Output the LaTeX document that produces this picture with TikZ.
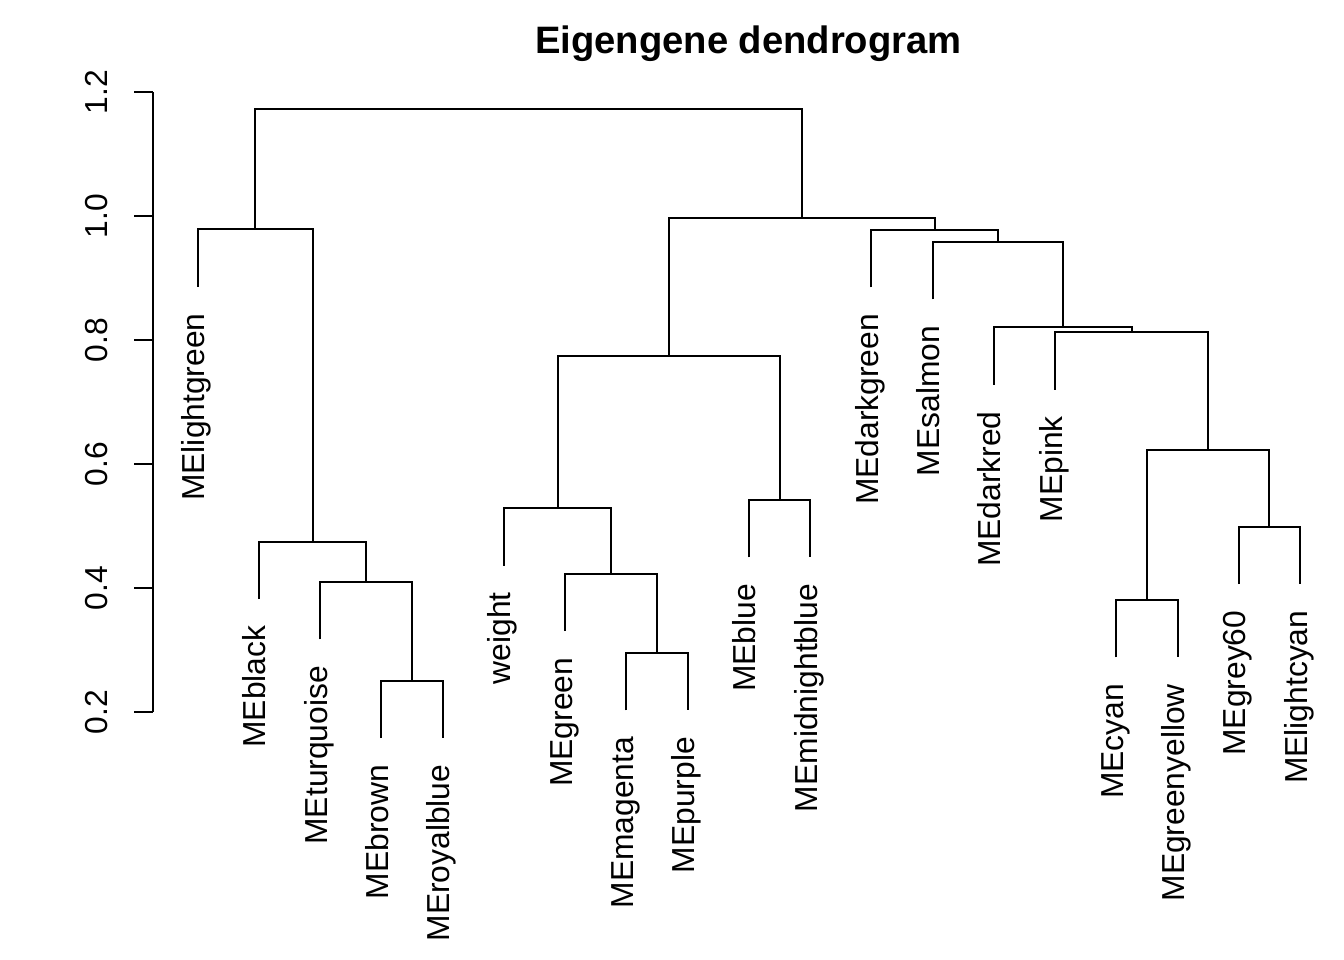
\documentclass[tikz,border=0pt]{standalone}
\usepackage{fontspec}
\setmainfont{Liberation Sans}
\begin{document}
\begin{tikzpicture}[x=1pt,y=-1pt,
  lab/.style={rotate=90, anchor=base east, inner sep=0pt, font=\fontsize{31.8}{36}\selectfont},
  ticklab/.style={rotate=90, anchor=base, inner sep=0pt, font=\fontsize{31.8}{36}\selectfont},
  link/.style={draw=black, line width=2pt, line cap=butt, line join=miter},
  axisline/.style={draw=black, line width=2pt, line cap=butt}]
\useasboundingbox (0,0) rectangle (1344,960);
\fill[white] (0,0) rectangle (1344,960);

% title
\node[inner sep=0pt, anchor=base, font=\fontsize{38.2}{42}\selectfont\bfseries] (title) at (748.4,53.3) {Eigengene dendrogram};

% axis
\coordinate (ax12) at (152.5,92.3);
\coordinate (ax02) at (152.5,712.3);
\draw[axisline] (ax12) -- (ax02);
\foreach \v/\y/\n in {0.2/712.3/a, 0.4/588.3/b, 0.6/464.3/c, 0.8/340.3/d, 1.0/216.3/e, 1.2/92.3/f}{
  \coordinate (tk\n) at (152.5,\y);
  \coordinate (tl\n) at (133.5,\y);
  \draw[axisline] (tk\n) -- (tl\n);
  \node[ticklab] (tt\n) at (107,\y) {\v};
}

% leaf tips
\coordinate (t0)  at (197.7,286.7);
\coordinate (t1)  at (258.9,599.0);
\coordinate (t2)  at (320.2,639.3);
\coordinate (t3)  at (381.4,738.0);
\coordinate (t4)  at (442.7,738.0);
\coordinate (t5)  at (503.9,565.6);
\coordinate (t6)  at (565.1,631.0);
\coordinate (t7)  at (626.4,710.3);
\coordinate (t8)  at (687.6,710.3);
\coordinate (t9)  at (748.9,557.3);
\coordinate (t10) at (810.1,557.3);
\coordinate (t11) at (871.3,287.3);
\coordinate (t12) at (932.6,299.3);
\coordinate (t13) at (993.8,384.6);
\coordinate (t14) at (1055.1,389.6);
\coordinate (t15) at (1116.3,657.3);
\coordinate (t16) at (1177.5,657.3);
\coordinate (t17) at (1238.8,584.0);
\coordinate (t18) at (1300.0,584.0);

% leaf labels
\node[lab] (l0)  at ([shift={(7,26.5)}]t0)  {MElightgreen};
\node[lab] (l1)  at ([shift={(7,26.5)}]t1)  {MEblack};
\node[lab] (l2)  at ([shift={(7,26.5)}]t2)  {MEturquoise};
\node[lab] (l3)  at ([shift={(7,26.5)}]t3)  {MEbrown};
\node[lab] (l4)  at ([shift={(7,26.5)}]t4)  {MEroyalblue};
\node[lab] (l5)  at ([shift={(7,26.5)}]t5)  {weight};
\node[lab] (l6)  at ([shift={(7,26.5)}]t6)  {MEgreen};
\node[lab] (l7)  at ([shift={(7,26.5)}]t7)  {MEmagenta};
\node[lab] (l8)  at ([shift={(7,26.5)}]t8)  {MEpurple};
\node[lab] (l9)  at ([shift={(7,26.5)}]t9)  {MEblue};
\node[lab] (l10) at ([shift={(7,26.5)}]t10) {MEmidnightblue};
\node[lab] (l11) at ([shift={(7,26.5)}]t11) {MEdarkgreen};
\node[lab] (l12) at ([shift={(7,26.5)}]t12) {MEsalmon};
\node[lab] (l13) at ([shift={(7,26.5)}]t13) {MEdarkred};
\node[lab] (l14) at ([shift={(7,26.5)}]t14) {MEpink};
\node[lab] (l15) at ([shift={(7,26.5)}]t15) {MEcyan};
\node[lab] (l16) at ([shift={(7,26.5)}]t16) {MEgreenyellow};
\node[lab] (l17) at ([shift={(7,26.5)}]t17) {MEgrey60};
\node[lab] (l18) at ([shift={(7,26.5)}]t18) {MElightcyan};

% merge points
\coordinate (mD) at (412.05,680.7);
\coordinate (mC) at (366.1,582.0);
\coordinate (mB) at (312.5,541.7);
\coordinate (mA) at (255.1,229.3);
\coordinate (mI) at (657.0,653.0);
\coordinate (mH) at (611.05,573.7);
\coordinate (mG) at (557.5,508.3);
\coordinate (mJ) at (779.5,500.0);
\coordinate (mF) at (668.5,355.7);
\coordinate (mQ) at (1146.9,600.0);
\coordinate (mP) at (1269.4,526.7);
\coordinate (mO) at (1208.15,450.0);
\coordinate (mN) at (1131.6,332.3);
\coordinate (mM) at (1062.7,327.3);
\coordinate (mL) at (997.65,242.0);
\coordinate (mK) at (934.5,230.0);
\coordinate (mE) at (801.5,218.5);
\coordinate (mR) at (528.3,109.2);

% links
\draw[link] (t3) |- (mD) -| (t4);
\draw[link] (t2) |- (mC) -| (mD);
\draw[link] (t1) |- (mB) -| (mC);
\draw[link] (t0) |- (mA) -| (mB);
\draw[link] (t7) |- (mI) -| (t8);
\draw[link] (t6) |- (mH) -| (mI);
\draw[link] (t5) |- (mG) -| (mH);
\draw[link] (t9) |- (mJ) -| (t10);
\draw[link] (mG) |- (mF) -| (mJ);
\draw[link] (t15) |- (mQ) -| (t16);
\draw[link] (t17) |- (mP) -| (t18);
\draw[link] (mQ) |- (mO) -| (mP);
\draw[link] (t14) |- (mN) -| (mO);
\draw[link] (t13) |- (mM) -| (mN);
\draw[link] (t12) |- (mL) -| (mM);
\draw[link] (t11) |- (mK) -| (mL);
\draw[link] (mF) |- (mE) -| (mK);
\draw[link] (mA) |- (mR) -| (mE);
\end{tikzpicture}
\end{document}
